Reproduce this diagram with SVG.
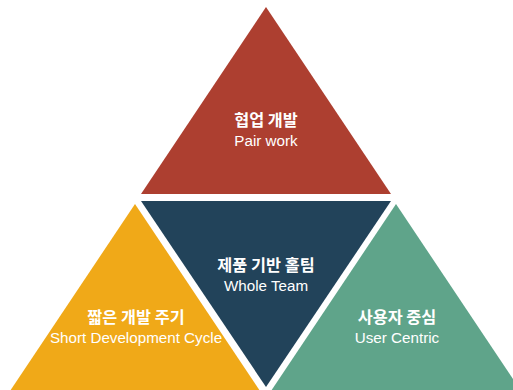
<svg xmlns="http://www.w3.org/2000/svg" width="513" height="390" viewBox="0 0 513 390">
<style>
.ko{font-family:"Noto Sans CJK KR","Noto Sans",sans-serif;font-weight:bold;font-size:16.3px;fill:#fff;text-anchor:middle}
.en{font-family:"Liberation Sans",Arial,sans-serif;font-size:15.2px;fill:#fff;text-anchor:middle}
</style>
<rect width="513" height="390" fill="#fff"/>
<g id="pair-work">
<polygon points="266,7 141,194 391,194" fill="#ad3f30"/>
<text class="ko" x="266" y="126">협업 개발</text>
<text class="en" x="266" y="146">Pair work</text>
</g>
<g id="short-cycle">
<polygon points="135,204 10,391 260,391" fill="#f0a918"/>
<text class="ko" x="136" y="323">짧은 개발 주기</text>
<text class="en" x="136" y="343">Short Development Cycle</text>
</g>
<g id="whole-team">
<polygon points="141,201 391,201 266,387" fill="#22435a"/>
<text class="ko" x="266" y="271">제품 기반 홀팀</text>
<text class="en" x="266" y="291">Whole Team</text>
</g>
<g id="user-centric">
<polygon points="396,204 271,391 521,391" fill="#5fa48a"/>
<text class="ko" x="397" y="323">사용자 중심</text>
<text class="en" x="397" y="343">User Centric</text>
</g>
<g id="connectors"></g>
</svg>
